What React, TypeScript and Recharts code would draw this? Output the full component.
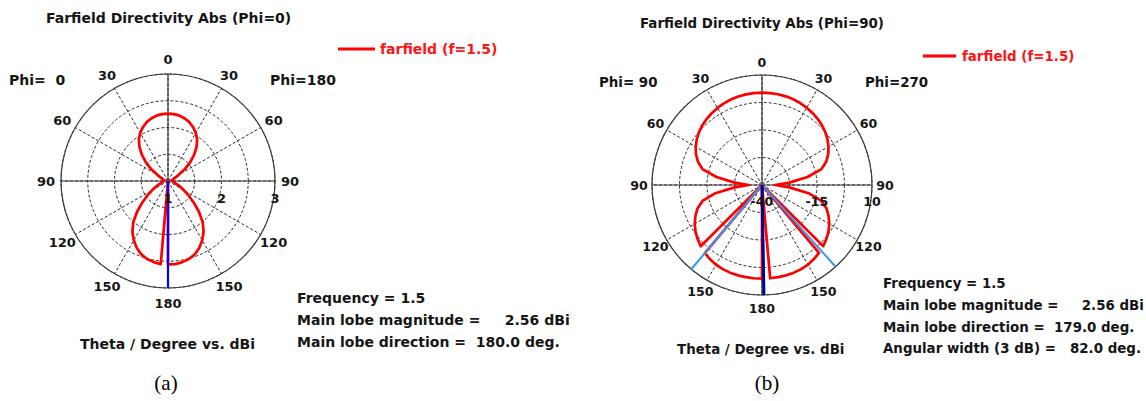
import React from 'react';
import { RadarChart, Radar, PolarGrid, PolarAngleAxis, PolarRadiusAxis, Legend } from 'recharts';

// Theta (degrees) at which the patterns were read
const theta = [0, 5, 10, 15, 20, 25, 30, 35, 40, 45, 50, 55, 60, 65, 70, 75, 80, 85, 90,
  95, 100, 105, 110, 115, 120, 125, 130, 135, 140, 145, 150, 155, 160, 165, 170, 175, 180];

// (a) Phi=0 cut, dBi. Left half = Phi=0, right half = Phi=180
const gainA_phi0 = [2.26, 2.255, 2.24, 2.21, 2.17, 2.11, 2.04, 1.95, 1.83, 1.69, 1.54, 1.38, 1.23, 1.15, 1.11, 1.09, 1.08, 1.08, 1.08,
  1.09, 1.1, 1.13, 1.18, 1.25, 1.34, 1.47, 1.63, 1.82, 2.01, 2.16, 2.28, 2.38, 2.46, 2.51, 2.54, 2.56, 2.56];
const gainA_phi180 = [2.26, 2.255, 2.24, 2.21, 2.17, 2.11, 2.04, 1.95, 1.83, 1.69, 1.54, 1.38, 1.23, 1.15, 1.11, 1.09, 1.08, 1.08, 1.08,
  1.09, 1.1, 1.13, 1.18, 1.25, 1.34, 1.47, 1.63, 1.82, 2.01, 2.16, 2.28, 2.38, 2.46, 2.51, 2.54, 2.56, 2.56];

// (b) Phi=90 cut, dBi. Left half = Phi=90, right half = Phi=270
const gainB_phi90 = [1.96, 1.95, 1.85, 1.65, 1.35, 0.95, 0.45, -0.15, -0.85, -1.65, -2.6, -3.8, -5.2, -6.9, -9.0, -12.0, -19.0, -27.5, -34,
  -27.5, -18.5, -12.0, -8.8, -6.6, -4.7, -3.1, -1.8, -0.6, 0.4, 1.2, 1.8, 2.2, 2.4, 2.5, 2.54, 2.56, 2.56];
const gainB_phi270 = [1.96, 1.95, 1.88, 1.72, 1.5, 1.1, 0.6, 0.0, -0.7, -1.5, -2.5, -3.7, -5.1, -6.8, -8.9, -12.0, -19.0, -27.5, -34,
  -27.5, -18.5, -12.0, -8.8, -6.6, -4.7, -3.1, -1.8, -0.7, 0.3, 1.1, 1.8, 2.2, 2.4, 2.5, 2.54, 2.56, 2.56];

// Polar scales (dBi)
const radiusDomainA = [1, 3];
const radiusTicksA = [1, 1.5, 2, 2.5, 3];
const radiusLabelsA = [1, 2, 3];
const radiusDomainB = [-40, 10];
const radiusTicksB = [-40, -27.5, -15, -2.5, 10];
const radiusLabelsB = [-40, -15, 10];
const angleTicks = [0, 30, 60, 90, 120, 150, 180, 210, 240, 270, 300, 330];

// Marker lines: angle (clockwise position, 0 = theta 0 top) and dBi range
const markersA = [{ angle: 180, from: 1, to: 3 }]; // main lobe direction 180 deg
const markersB = [
  { angle: 138, from: -40, to: 10 }, // 3 dB beam edge
  { angle: 220, from: -40, to: 10 }, // 3 dB beam edge
  { angle: 179, from: -40, to: 10 }, // main lobe direction
  { angle: 179, from: -15, to: 10 }, // main lobe direction (emphasis)
];
const markerStylesA = [{ stroke: '#0000ff', width: 2.2 }];
const markerStylesB = [
  { stroke: '#3a94f2', width: 2 },
  { stroke: '#3a94f2', width: 2 },
  { stroke: '#1010ff', width: 1.6 },
  { stroke: '#000090', width: 3 },
];

const seriesName = 'farfield (f=1.5)';

function buildRows(left: number[], right: number[], markers: { angle: number; from: number; to: number }[]) {
  const rows: any[] = [];
  theta.forEach((t, i) => rows.push({ angle: t, gain: right[i] }));
  for (let i = theta.length - 2; i >= 1; i--) rows.push({ angle: 360 - theta[i], gain: left[i] });
  markers.forEach((m, k) => {
    rows.push({ angle: m.angle, ['m' + k]: m.from });
    rows.push({ angle: m.angle, ['m' + k]: m.to });
  });
  return rows.map((r, i) => ({ ...r, _i: i })).sort((a, b) => a.angle - b.angle || a._i - b._i);
}

const rowsA = buildRows(gainA_phi0, gainA_phi180, markersA);
const rowsB = buildRows(gainB_phi90, gainB_phi270, markersB);

const FONT = "'DejaVu Sans', Verdana, sans-serif";
const INK = '#151515';

const makeAngleTick = (size: number) => (props: any) => {
  const { x, y, payload } = props;
  const v = Number(payload.value);
  const label = v > 180 ? 360 - v : v;
  return (
    <text x={x} y={y} dy="0.37em" textAnchor="middle" fontFamily={FONT} fontSize={size} fontWeight="bold" fill={INK}>
      {label}
    </text>
  );
};

const makeRadiusTick = (labels: number[], dy: number, size: number) => (props: any) => {
  const { x, y, payload } = props;
  if (!labels.includes(Number(payload.value))) return <g />;
  return (
    <text x={x} y={y + dy} dy="0.37em" textAnchor="middle" fontFamily={FONT} fontSize={size} fontWeight="bold" fill={INK}>
      {payload.value}
    </text>
  );
};

const makeLegend = (lineLen: number, gap: number, size: number) => (props: any) => {
  const item = (props.payload || []).find((p: any) => p.value === seriesName);
  return (
    <svg width={200} height={20} style={{ display: 'block' }}>
      <line x1={0} x2={lineLen} y1={9} y2={9} stroke="#ff0000" strokeWidth={3} />
      <text x={lineLen + gap} y={14} fontFamily={FONT} fontSize={size} fontWeight="bold" fill="#ff1414">
        {item ? item.value : seriesName}
      </text>
    </svg>
  );
};

type PolarProps = {
  rows: any[];
  width: number;
  cx: number;
  cy: number;
  R: number;
  domain: number[];
  ticks: number[];
  labels: number[];
  labelDy: number;
  tickGap: number;
  tickFont: number;
  markerStyles: { stroke: string; width: number }[];
  legendPos: { left: number; top: number };
  legendLine: number;
  legendGap: number;
  legendFont: number;
};

const PolarPlot = (p: PolarProps) => (
  <RadarChart
    width={p.width}
    height={401}
    cx={p.cx}
    cy={p.cy}
    outerRadius={p.R}
    startAngle={90}
    endAngle={-270}
    data={p.rows}
    margin={{ top: 0, right: 0, bottom: 0, left: 0 }}
  >
    <PolarGrid gridType="circle" stroke="#2a2a2a" strokeDasharray="3 2" strokeWidth={1} />
    <PolarGrid gridType="circle" stroke="#3c3c3c" strokeWidth={1.2} polarAngles={[0, 90, 180, 270]} polarRadius={[p.R]} />
    <PolarAngleAxis
      dataKey="angle"
      type="number"
      domain={[0, 360]}
      ticks={angleTicks}
      axisLine={false}
      tickLine={false}
      tickSize={p.tickGap}
      tick={makeAngleTick(p.tickFont)}
    />
    <PolarRadiusAxis
      angle={0}
      domain={p.domain}
      ticks={p.ticks}
      type="number"
      axisLine={false}
      tickLine={false}
      tick={makeRadiusTick(p.labels, p.labelDy, p.tickFont)}
    />
    <Radar
      name={seriesName}
      dataKey="gain"
      stroke="#ff0000"
      strokeWidth={2.7}
      strokeLinejoin="round"
      fill="none"
      fillOpacity={0}
      connectNulls
      dot={false}
      isAnimationActive={false}
    />
    {p.markerStyles.map((s, k) => (
      <Radar
        key={k}
        name={'m' + k}
        dataKey={'m' + k}
        stroke={s.stroke}
        strokeWidth={s.width}
        fill="none"
        fillOpacity={0}
        connectNulls
        dot={false}
        legendType="none"
        isAnimationActive={false}
      />
    ))}
    <Legend
      layout="horizontal"
      verticalAlign="middle"
      align="center"
      wrapperStyle={{ left: p.legendPos.left, top: p.legendPos.top, width: 200, height: 20 }}
      content={makeLegend(p.legendLine, p.legendGap, p.legendFont)}
    />
  </RadarChart>
);

const T = (props: any) => {
  const { size = 14, ...rest } = props;
  return <text fontFamily={FONT} fontSize={size} fontWeight="bold" fill={INK} style={{ whiteSpace: 'pre' }} {...rest} />;
};

export default function App() {
  const sb = 13.4;
  return (
    <div style={{ position: 'absolute', left: 0, top: 0, width: 1146, height: 401, background: '#fff', overflow: 'hidden' }}>
      <div style={{ position: 'absolute', left: 0, top: 0 }}>
        <PolarPlot
          rows={rowsA}
          width={573}
          cx={168}
          cy={181}
          R={107}
          domain={radiusDomainA}
          ticks={radiusTicksA}
          labels={radiusLabelsA}
          labelDy={17}
          tickGap={15}
          tickFont={13}
          markerStyles={markerStylesA}
          legendPos={{ left: 338, top: 40 }}
          legendLine={37}
          legendGap={5}
          legendFont={14}
        />
      </div>
      <div style={{ position: 'absolute', left: 573, top: 0 }}>
        <PolarPlot
          rows={rowsB}
          width={573}
          cx={189}
          cy={185}
          R={110}
          domain={radiusDomainB}
          ticks={radiusTicksB}
          labels={radiusLabelsB}
          labelDy={16}
          tickGap={13}
          tickFont={12.6}
          markerStyles={markerStylesB}
          legendPos={{ left: 350, top: 47 }}
          legendLine={33}
          legendGap={6}
          legendFont={sb}
        />
      </div>
      <svg width={1146} height={401} style={{ position: 'absolute', left: 0, top: 0, pointerEvents: 'none' }}>
        <T x={46} y={23}>Farfield Directivity Abs (Phi=0)</T>
        <T x={9} y={85}>{'Phi=  0'}</T>
        <T x={270} y={85}>Phi=180</T>
        <T x={80} y={349}>Theta / Degree vs. dBi</T>
        <T x={297} y={303}>Frequency = 1.5</T>
        <T x={297} y={325}>{'Main lobe magnitude =     2.56 dBi'}</T>
        <T x={297} y={347}>{'Main lobe direction =  180.0 deg.'}</T>

        <T size={sb} x={640} y={28}>Farfield Directivity Abs (Phi=90)</T>
        <T size={sb} x={599} y={87}>{'Phi= 90'}</T>
        <T size={sb} x={865} y={87}>Phi=270</T>
        <T size={sb} x={677} y={354}>Theta / Degree vs. dBi</T>
        <T size={sb} x={883} y={288}>Frequency = 1.5</T>
        <T size={sb} x={883} y={310}>{'Main lobe magnitude =     2.56 dBi'}</T>
        <T size={sb} x={883} y={331.5}>{'Main lobe direction =  179.0 deg.'}</T>
        <T size={sb} x={883} y={353}>{'Angular width (3 dB) =   82.0 deg.'}</T>

        <text x={166} y={390} textAnchor="middle" fontFamily="'Liberation Serif', 'Times New Roman', serif" fontSize={21} fill="#000">(a)</text>
        <text x={767} y={390} textAnchor="middle" fontFamily="'Liberation Serif', 'Times New Roman', serif" fontSize={21} fill="#000">(b)</text>
      </svg>
    </div>
  );
}
